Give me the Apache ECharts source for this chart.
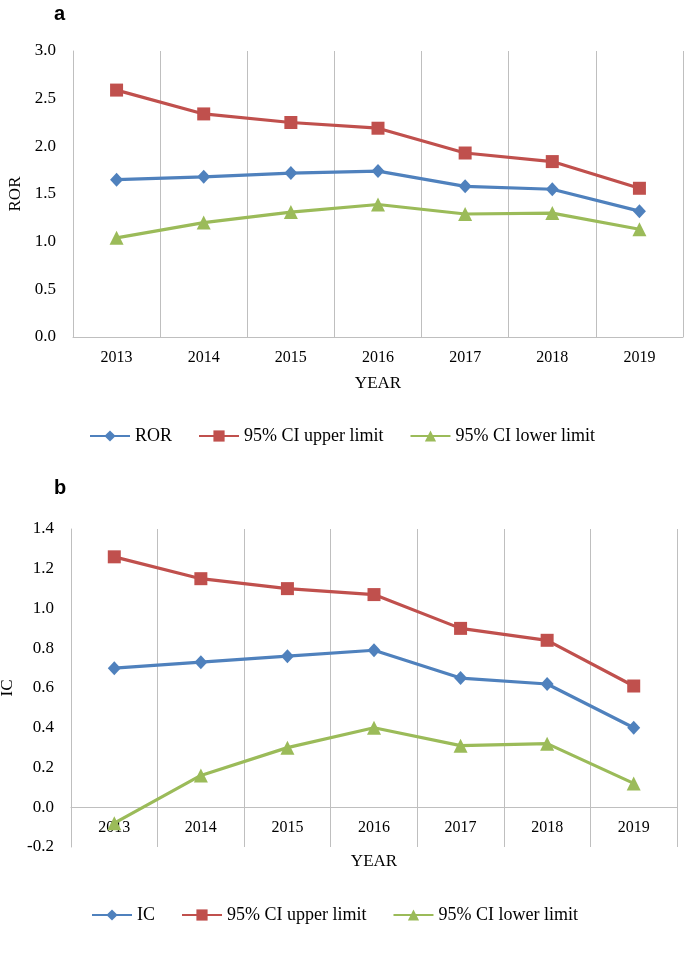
<!DOCTYPE html>
<html>
<head>
<meta charset="utf-8">
<script src="https://cdn.jsdelivr.net/npm/echarts@6/dist/echarts.min.js"></script>
<style>
html,body{margin:0;padding:0;background:#fff;}
#chart{width:685px;height:963px;}
</style>
</head>
<body>
<div id="chart"></div>
<script>
// ---- data ----
var years = ['2013', '2014', '2015', '2016', '2017', '2018', '2019'];

var rorValues      = [1.65, 1.68, 1.72, 1.74, 1.58, 1.55, 1.32];
var rorUpper       = [2.59, 2.34, 2.25, 2.19, 1.93, 1.84, 1.56];
var rorLower       = [1.04, 1.20, 1.31, 1.39, 1.29, 1.30, 1.13];

var icValues       = [0.70, 0.73, 0.76, 0.79, 0.65, 0.62, 0.40];
var icUpper        = [1.26, 1.15, 1.10, 1.07, 0.90, 0.84, 0.61];
var icLower        = [-0.08, 0.16, 0.30, 0.40, 0.31, 0.32, 0.12];

var rorTicks = { min: 0, max: 3.0, interval: 0.5 };
var icTicks  = { min: -0.2, max: 1.4, interval: 0.2 };

var panelLabels = ['a', 'b'];
var seriesNamesA = ['ROR', '95% CI upper limit', '95% CI lower limit'];
var seriesNamesB = ['IC', '95% CI upper limit', '95% CI lower limit'];

// ---- styles ----
var BLUE = '#4F81BD', RED = '#C0504D', GREEN = '#9BBB59';
var GRAY = '#BFBFBF';
var SERIF = '"Liberation Serif", "DejaVu Serif", serif';

function mkSeries(name, data, color, symbol, size, xi, yi) {
  return {
    type: 'line', name: name, data: data,
    xAxisIndex: xi, yAxisIndex: yi,
    symbol: symbol, symbolSize: size,
    showAllSymbol: true,
    lineStyle: { color: color, width: 3.2 },
    itemStyle: { color: color },
    emphasis: { disabled: true },
    animation: false
  };
}

function xAx(gi, gap, offset) {
  return {
    type: 'category', gridIndex: gi, data: years,
    boundaryGap: true,
    offset: offset,
    axisLine: { show: true, onZero: false, lineStyle: { color: GRAY, width: 1 } },
    axisTick: { show: false },
    splitLine: { show: true, lineStyle: { color: GRAY, width: 1 } },
    axisLabel: { color: '#000', fontFamily: SERIF, fontSize: 16, margin: 13 },
    name: 'YEAR', nameLocation: 'middle', nameGap: gap,
    nameTextStyle: { color: '#000', fontFamily: SERIF, fontSize: 17 }
  };
}

function yAx(gi, t, name) {
  return {
    type: 'value', gridIndex: gi, min: t.min, max: t.max, interval: t.interval,
    axisLine: { show: true, lineStyle: { color: GRAY, width: 1 } },
    axisTick: { show: false },
    splitLine: { show: false },
    axisLabel: { color: '#000', fontFamily: SERIF, fontSize: 17, margin: 17,
      formatter: function (v) { return (Math.round(v * 10) / 10).toFixed(1); } },
    name: name, nameLocation: 'middle', nameGap: 45, nameRotate: 90,
    nameTextStyle: { color: '#000', fontFamily: SERIF, fontSize: 17 }
  };
}

var chart = echarts.init(document.getElementById('chart'), null, { renderer: 'canvas' });

var titleStyle = { fontFamily: '"Liberation Sans", Arial, sans-serif', fontWeight: 'bold', fontSize: 20, color: '#000' };
var legendText = { color: '#000', fontFamily: SERIF, fontSize: 18 };

var option = {
  backgroundColor: '#fff',
  animation: false,
  title: [
    { text: panelLabels[0], left: 49, top: -1, textStyle: titleStyle },
    { text: panelLabels[1], left: 49, top: 473, textStyle: titleStyle }
  ],
  grid: [
    { left: 73, top: 51, width: 610, height: 286, containLabel: false, outerBoundsMode: 'none' },
    { left: 71, top: 529, width: 606, height: 318, containLabel: false, outerBoundsMode: 'none' }
  ],
  xAxis: [ xAx(0, 38, 0), xAx(1, 46, -40) ],
  yAxis: [ yAx(0, rorTicks, 'ROR'), yAx(1, icTicks, 'IC') ],
  legend: [
    {
      left: 89, top: 427, padding: 0, itemWidth: 40, itemHeight: 14, itemGap: 26, selectedMode: false,
      data: ['ROR', 'upperA', 'lowerA'],
      formatter: function (n) { return n === 'upperA' ? seriesNamesA[1] : (n === 'lowerA' ? seriesNamesA[2] : n); },
      textStyle: legendText
    },
    {
      left: 91, top: 906, padding: 0, itemWidth: 40, itemHeight: 14, itemGap: 26, selectedMode: false,
      data: ['IC', 'upperB', 'lowerB'],
      formatter: function (n) { return n === 'upperB' ? seriesNamesB[1] : (n === 'lowerB' ? seriesNamesB[2] : n); },
      textStyle: legendText
    }
  ],
  series: [
    mkSeries('ROR', rorValues, BLUE, 'diamond', [13, 14], 0, 0),
    mkSeries('upperA', rorUpper, RED, 'rect', 13, 0, 0),
    mkSeries('lowerA', rorLower, GREEN, 'triangle', 14, 0, 0),
    mkSeries('IC', icValues, BLUE, 'diamond', [13, 14], 1, 1),
    mkSeries('upperB', icUpper, RED, 'rect', 13, 1, 1),
    mkSeries('lowerB', icLower, GREEN, 'triangle', 14, 1, 1)
  ]
};
chart.setOption(option);
</script>
</body>
</html>
